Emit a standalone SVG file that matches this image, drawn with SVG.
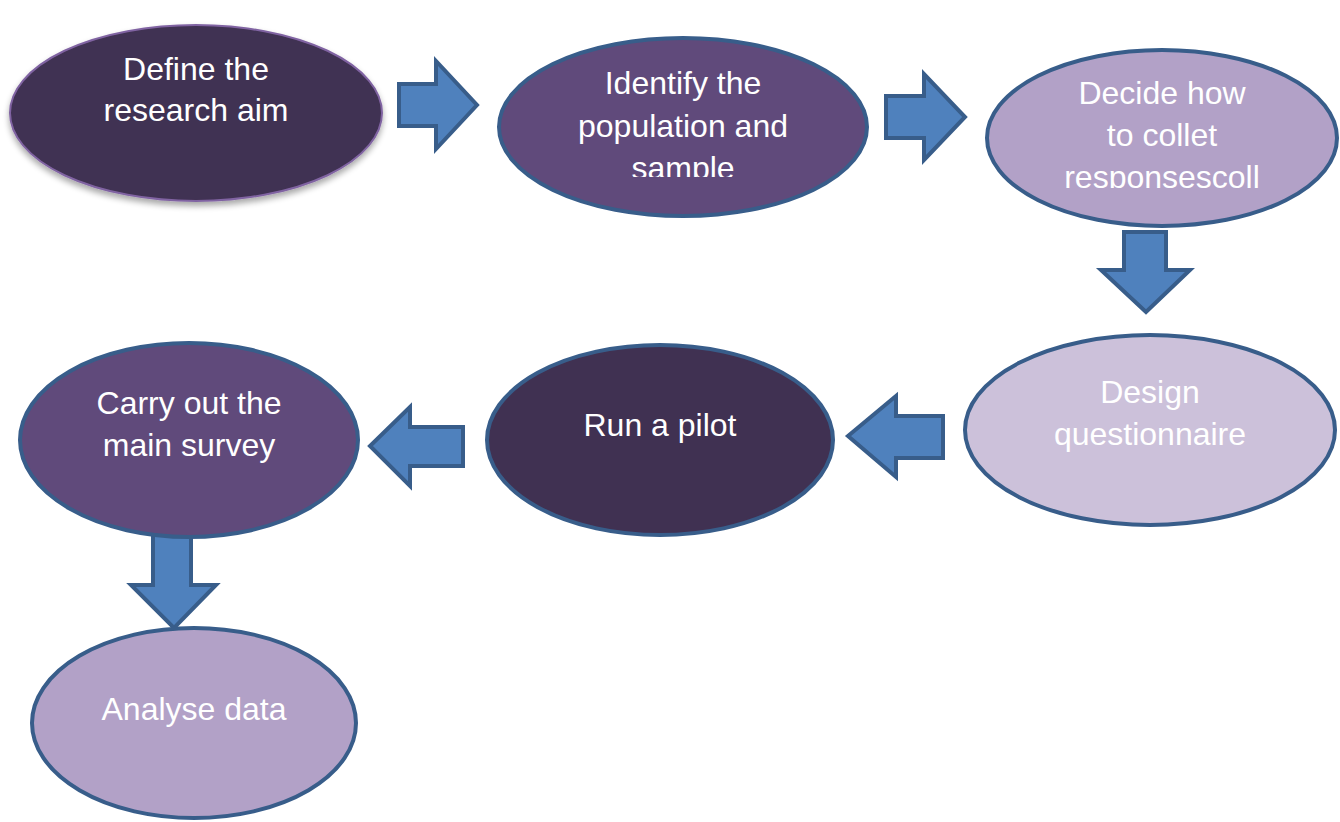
<svg xmlns="http://www.w3.org/2000/svg" width="1340" height="822" viewBox="0 0 1340 822">
<defs>
<style>
.lbl{font-family:"Liberation Sans",Arial,sans-serif;font-size:32px;fill:#ffffff;text-anchor:middle}
.node{stroke:#385D8A;stroke-width:4}
.arr{fill:#4F81BD;stroke:#385D8A;stroke-width:4;stroke-linejoin:miter}
</style>
<filter id="sh" x="-10%" y="-10%" width="120%" height="130%">
<feGaussianBlur in="SourceAlpha" stdDeviation="3"/>
<feOffset dx="0" dy="4" result="b"/>
<feComponentTransfer><feFuncA type="linear" slope="0.35"/></feComponentTransfer>
<feMerge><feMergeNode/><feMergeNode in="SourceGraphic"/></feMerge>
</filter>
<clipPath id="c2"><rect x="498" y="37" width="370" height="140"/></clipPath>
<clipPath id="c3"><rect x="987" y="50" width="351" height="138"/></clipPath>
</defs>
<rect width="1340" height="822" fill="#ffffff"/>
<g id="connectors">
<path class="arr" d="M399,84 H436 V61 L477,105 L436,149 V126 H399 Z"/>
<path class="arr" d="M886,96 H924 V74 L965,117 L924,160 V138 H886 Z"/>
<path class="arr" d="M1124,232 H1166 V270 H1190 L1146,312 L1101,270 H1124 Z"/>
<path class="arr" d="M943,416 H896 V396 L848,436 L896,477 V458 H943 Z"/>
<path class="arr" d="M463,427 H410 V407 L370,446 L410,486 V466 H463 Z"/>
<path class="arr" d="M153,535 H191 V585 H216 L174,628 L131,585 H153 Z"/>
</g>
<g id="n1">
<ellipse cx="196" cy="113" rx="186" ry="88" fill="#403152" stroke="#8064A2" stroke-width="2" filter="url(#sh)"/>
<text class="lbl" x="196" y="80">Define the</text>
<text class="lbl" x="196" y="121">research aim</text>
</g>
<g id="n2">
<ellipse class="node" cx="683" cy="127" rx="184" ry="89" fill="#604A7B"/>
<g clip-path="url(#c2)">
<text class="lbl" x="683" y="94">Identify the</text>
<text class="lbl" x="683" y="137">population and</text>
<text class="lbl" x="683" y="179">sample</text>
</g>
</g>
<g id="n3">
<ellipse class="node" cx="1162" cy="138" rx="175" ry="88" fill="#B2A1C7"/>
<g clip-path="url(#c3)">
<text class="lbl" x="1162" y="104">Decide how</text>
<text class="lbl" x="1162" y="146">to collet</text>
<text class="lbl" x="1162" y="188">responsescoll</text>
</g>
</g>
<g id="n4">
<ellipse class="node" cx="1150" cy="430" rx="185" ry="95" fill="#CCC1DA"/>
<text class="lbl" x="1150" y="403">Design</text>
<text class="lbl" x="1150" y="445">questionnaire</text>
</g>
<g id="n5">
<ellipse class="node" cx="660" cy="440" rx="173" ry="95" fill="#403152"/>
<text class="lbl" x="660" y="436">Run a pilot</text>
</g>
<g id="n6">
<ellipse class="node" cx="189" cy="440" rx="169" ry="97" fill="#604A7B"/>
<text class="lbl" x="189" y="414">Carry out the</text>
<text class="lbl" x="189" y="456">main survey</text>
</g>
<g id="n7">
<ellipse class="node" cx="194" cy="723" rx="162" ry="95" fill="#B2A1C7"/>
<text class="lbl" x="194" y="720">Analyse data</text>
</g>
</svg>
